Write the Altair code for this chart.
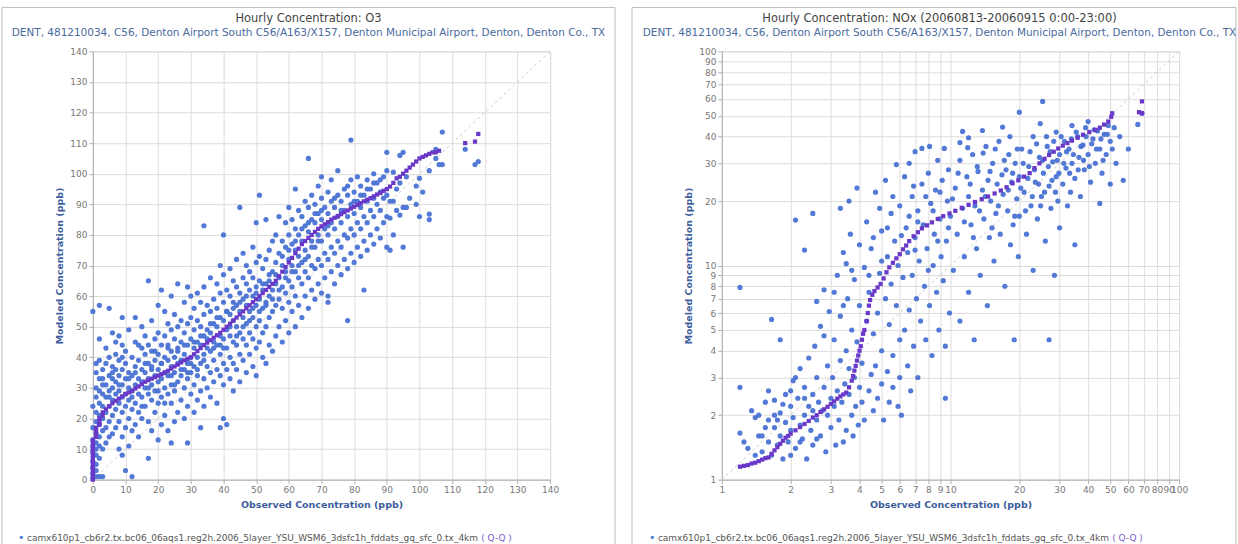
import altair as alt
import pandas as pd

# ---------------- texts ----------------
o3_title = "Hourly Concentration: O3"
site_sub = "DENT, 481210034, C56, Denton Airport South C56/A163/X157, Denton Municipal Airport, Denton, Denton Co., TX"
nox_title = "Hourly Concentration: NOx (20060813-20060915 0:00-23:00)"
legend_label = "camx610p1_cb6r2.tx.bc06_06aqs1.reg2h.2006_5layer_YSU_WSM6_3dsfc1h_fddats_gq_sfc_0.tx_4km"

# ---------------- O3 panel (linear) ----------------
o3_ticks = [0, 10, 20, 30, 40, 50, 60, 70, 80, 90, 100, 110, 120, 130, 140]

# observed value -> modeled values (scatter)
o3_obs = [0, 1, 2, 3, 4, 5, 6, 7, 8, 9, 10, 11, 12, 13, 14, 15, 16, 17, 18, 19,
          20, 21, 22, 23, 24, 25, 26, 27, 28, 29, 30, 31, 32, 33, 34, 35, 36, 37, 38, 39,
          40, 41, 42, 43, 44, 45, 46, 47, 48, 49, 50, 51, 52, 53, 54, 55, 56, 57, 58, 59,
          60, 61, 62, 63, 64, 65, 66, 67, 68, 69, 70, 71, 72, 73, 74, 75, 76, 77, 78, 79,
          80, 81, 82, 83, 84, 85, 86, 87, 88, 89, 90, 91, 92, 93, 94, 95, 96, 97, 99, 100,
          101, 103, 105, 106, 107, 114, 117, 118]
o3_mod = [
    [0.5, 2, 4, 6, 9, 11, 13, 17, 24, 55],
    [1, 3, 5, 8, 10, 12, 15, 19, 22, 27, 30, 35, 38],
    [1, 7, 11, 14, 18, 21, 25, 29, 33, 39, 46, 57],
    [1, 10, 16, 20, 24, 28, 31, 36],
    [12, 17, 22, 27, 31, 38, 43],
    [14, 19, 24, 29, 34, 40, 56],
    [15, 21, 26, 30, 33, 37, 48],
    [17, 23, 28, 32, 36, 41, 45],
    [10, 19, 25, 29, 34, 39, 47],
    [8, 14, 22, 27, 31, 36, 44, 53],
    [3, 17, 24, 28, 33, 38, 42],
    [11, 20, 26, 30, 35, 49],
    [1, 16, 23, 29, 34, 40],
    [18, 25, 31, 37, 45, 53],
    [14, 22, 28, 33, 39],
    [20, 27, 32, 36, 43, 50],
    [24, 30, 35, 41, 47],
    [7, 19, 28, 33, 38, 44, 65],
    [16, 26, 31, 37, 42, 52],
    [22, 29, 34, 39, 46],
    [13, 25, 32, 36, 41, 48, 57],
    [18, 27, 33, 38, 44, 62],
    [21, 30, 35, 40, 47, 55],
    [16, 28, 34, 39, 43, 51],
    [12, 25, 31, 37, 42, 49, 60],
    [19, 29, 35, 40, 46, 54],
    [22, 32, 38, 43, 50, 64],
    [26, 34, 39, 45, 52],
    [20, 30, 36, 41, 48, 58],
    [12, 24, 33, 38, 44, 51, 63],
    [28, 35, 40, 46, 53, 60],
    [22, 31, 37, 43, 49, 56],
    [26, 34, 40, 45, 52, 61],
    [17, 29, 38, 44, 50, 58],
    [24, 33, 41, 47, 54, 63, 83],
    [30, 37, 43, 49, 57],
    [27, 35, 42, 48, 55, 66],
    [32, 39, 45, 51, 59],
    [25, 36, 44, 50, 56, 64],
    [17, 34, 41, 47, 53, 61, 70],
    [20, 31, 38, 46, 52, 58, 67, 80],
    [18, 36, 43, 49, 55, 62],
    [33, 40, 47, 54, 60, 69],
    [29, 38, 45, 52, 58, 65],
    [36, 44, 50, 57, 63, 72],
    [32, 41, 48, 55, 61, 89],
    [39, 46, 53, 59, 66, 74],
    [35, 44, 51, 57, 64, 70],
    [41, 48, 55, 62, 68],
    [37, 46, 53, 60, 66, 76],
    [34, 43, 50, 57, 63, 71, 84],
    [45, 52, 59, 65, 73, 93],
    [40, 48, 56, 62, 69],
    [38, 50, 58, 64, 72, 85],
    [44, 53, 60, 67, 75],
    [42, 55, 62, 68, 78],
    [47, 57, 64, 71, 80],
    [50, 59, 66, 74, 86],
    [45, 56, 63, 70, 78],
    [52, 61, 68, 76, 84],
    [48, 58, 65, 72, 80, 89],
    [55, 63, 70, 77, 85],
    [50, 60, 68, 75, 82, 95],
    [57, 66, 73, 80, 88],
    [53, 64, 71, 78, 86],
    [60, 68, 75, 83, 91],
    [56, 66, 73, 81, 89, 105],
    [62, 70, 78, 85, 93],
    [59, 69, 76, 84, 90],
    [64, 72, 80, 87, 96],
    [61, 70, 78, 85, 92, 99],
    [66, 74, 82, 89],
    [58, 60, 72, 80, 87, 94],
    [68, 76, 84, 91, 98],
    [64, 74, 82, 89],
    [70, 78, 86, 93, 101],
    [67, 76, 84, 91],
    [72, 80, 88, 95],
    [52, 69, 79, 86, 93],
    [74, 82, 90, 98, 111],
    [71, 80, 87, 94],
    [76, 84, 91, 99],
    [73, 82, 89, 96],
    [62, 78, 86, 93],
    [75, 84, 91, 98],
    [80, 88, 95],
    [77, 86, 92, 100],
    [82, 90, 97],
    [79, 88, 94],
    [84, 92, 99],
    [76, 86, 93, 107],
    [75, 85.5, 91],
    [80, 91, 100.5],
    [88, 95],
    [86.5, 97, 106],
    [76, 89, 107],
    [89, 99],
    [92],
    [90, 96],
    [86, 98.5],
    [94],
    [85, 86.8, 101],
    [105, 108],
    [103],
    [103, 113.6],
    [108],
    [103],
    [104],
]
# additional points in the dense band (obs, mod)
o3_extra = [(3, 33), (5, 27), (6, 35), (8, 31), (9, 40), (11, 33), (12, 27), (13, 35), (14, 44),
            (15, 24), (16, 38), (17, 30), (18, 36), (19, 42), (20, 29), (21, 38), (22, 25),
            (23, 44), (24, 34), (25, 31), (26, 42), (27, 36), (28, 44), (29, 35), (30, 38),
            (31, 45), (32, 36), (33, 47), (34, 39), (35, 46), (36, 51), (37, 43), (38, 53),
            (39, 44), (40, 43), (41, 55), (42, 50), (43, 56), (44, 47), (45, 58), (46, 50),
            (47, 60), (48, 52), (49, 56), (50, 61), (51, 55), (52, 64), (53, 57), (54, 65),
            (55, 59), (56, 67), (57, 62), (58, 73), (59, 66), (60, 75), (61, 68), (62, 78),
            (63, 70), (64, 82), (65, 72), (66, 84), (67, 76), (68, 87), (69, 78), (70, 88),
            (72, 83), (74, 92), (76, 88), (78, 96), (80, 91), (82, 93), (84, 95), (86, 97),
            (88, 98), (90, 101)]

o3_qq_obs = [0, 0, 0, 0, 0, 0, 0, 0, 0, 0, 0, 0, 0, 0, 1, 1, 1, 1, 2, 2, 2, 3, 3,
             4, 5, 6, 7, 8, 9, 10, 11, 12, 13, 14, 15, 16, 17, 18, 19, 20, 21, 22, 23,
             24, 25, 26, 27, 28, 29, 30, 31, 32, 33, 34, 35, 36, 37, 38, 39, 40, 41, 42,
             43, 44, 45, 46, 47, 48, 49, 50, 51, 52, 53, 54, 55, 56, 57, 58, 59, 60, 61,
             62, 63, 64, 65, 66, 67, 68, 69, 70, 71, 72, 73, 74, 75, 76, 77, 78, 79, 80,
             81, 82, 83, 84, 85, 86, 87, 88, 89, 90, 91, 92, 93, 94, 95, 96, 97, 98, 99,
             100, 101, 102, 103, 104, 105, 106, 114, 117, 118]
o3_qq_mod = [0, 1, 2, 3, 4, 5, 6, 7, 8, 9, 10, 11, 12, 13, 14, 15, 16, 17, 18, 19, 20, 21, 22,
             23, 24, 25, 25.8, 26.5, 27.2, 28, 28.5, 29, 29.8, 30.5, 31.2, 32, 32.5, 33, 33.5, 34, 34.5, 35, 35.6,
             36.3, 37, 37.6, 38.3, 39, 39.5, 40, 41, 42, 43, 44, 44.8, 45.6, 46.4, 47.2, 48, 49, 50, 51,
             52, 53, 54, 55, 56, 57, 58, 59, 60, 61, 62, 63, 64, 65, 66.5, 68, 69.5, 71, 72.5,
             74, 75.5, 77, 78, 79, 80, 81, 82, 82.8, 83.5, 84.2, 85, 85.6, 86.2, 86.8, 87.4, 88, 88.6, 89.2,
             89.8, 90.4, 91, 91.5, 92, 92.6, 93.2, 93.7, 94.4, 95, 95.8, 97, 98.5, 99, 100, 101, 102, 103, 104,
             105, 105.5, 106, 106.5, 107, 107, 107.5, 110, 110.5, 113]

# ---------------- NOx panel (log-log) ----------------
nox_ticks = [1, 2, 3, 4, 5, 6, 7, 8, 9, 10, 20, 30, 40, 50, 60, 70, 80, 90, 100]

nox_low = [(1.2, 2.7), (1.2, 1.65), (1.25, 1.5), (1.3, 1.4), (1.35, 2.1), (1.4, 1.95), (1.4, 1.3),
           (1.45, 2.0), (1.5, 1.6), (1.5, 1.35), (1.55, 2.3), (1.6, 1.9), (1.6, 1.5), (1.6, 2.6),
           (1.65, 1.3), (1.7, 2.0), (1.7, 1.75), (1.7, 2.35), (1.75, 1.45), (1.8, 1.6), (1.8, 2.05),
           (1.85, 1.25), (1.9, 1.85), (1.9, 2.5), (1.95, 1.5), (2.0, 2.2), (2.0, 1.7), (2.0, 1.3),
           (2.05, 2.9), (2.05, 1.95), (1.2, 7.9), (1.65, 5.6), (1.8, 4.5), (2.1, 16.3),
           (2.1, 1.4), (2.15, 2.4), (2.2, 1.8), (2.2, 3.3), (2.25, 1.55), (2.3, 2.0), (2.3, 2.7),
           (2.35, 1.25), (2.4, 2.2), (2.4, 3.7), (2.45, 1.7), (2.5, 2.5), (2.5, 1.45), (2.55, 4.2),
           (2.6, 1.9), (2.6, 3.0), (2.65, 2.3), (2.7, 1.6), (2.7, 5.2), (2.75, 2.1), (2.8, 2.7),
           (2.85, 1.35), (2.9, 3.4), (2.9, 2.0), (2.95, 6.1), (3.0, 2.4), (3.0, 1.75), (2.5, 17.5),
           (2.8, 7.7), (2.3, 11.8), (2.0, 2.6), (2.1, 3.0), (2.3, 2.4), (2.5, 2.1), (2.6, 1.55),
           (2.2, 1.5), (1.85, 2.25), (1.55, 1.75), (1.45, 1.6), (1.75, 1.9), (2.8, 4.7), (2.6, 6.8)]
nox_mid = [(3.05, 3.0), (3.1, 2.2), (3.1, 4.5), (3.15, 1.45), (3.2, 2.6), (3.2, 9.0), (3.25, 1.9),
           (3.3, 3.6), (3.3, 5.8), (3.35, 2.3), (3.4, 1.5), (3.4, 11.5), (3.45, 2.8), (3.5, 4.0),
           (3.5, 1.7), (3.55, 7.0), (3.6, 2.5), (3.6, 3.3), (3.65, 14.0), (3.7, 2.0), (3.7, 5.0),
           (3.75, 1.6), (3.8, 3.0), (3.8, 8.6), (3.85, 2.2), (3.9, 23.0), (3.9, 4.4), (3.95, 1.8),
           (4.0, 2.7), (4.0, 6.5), (4.0, 12.5), (3.3, 18.5), (3.6, 20.0), (3.5, 10.2),
           (4.1, 2.3), (4.1, 3.5), (4.2, 9.8), (4.2, 1.9), (4.3, 5.5), (4.3, 16.0), (4.4, 2.6),
           (4.4, 7.5), (4.5, 3.1), (4.5, 12.0), (4.6, 2.1), (4.6, 4.8), (4.7, 22.0), (4.7, 3.4),
           (4.8, 6.0), (4.8, 2.4), (4.9, 9.2), (5.0, 2.8), (5.0, 14.5), (5.0, 4.0), (5.1, 1.9),
           (5.2, 7.0), (5.2, 25.0), (5.3, 3.2), (5.3, 11.0), (5.4, 2.3), (5.4, 5.3), (5.5, 17.5),
           (5.5, 8.2), (5.6, 2.7), (5.6, 3.8), (5.7, 13.0), (5.8, 29.6), (5.8, 6.5), (5.9, 2.2),
           (5.9, 10.0), (6.0, 4.5), (6.0, 19.0), (6.0, 3.0),
           (6.1, 2.0), (6.2, 8.8), (6.3, 26.0), (6.3, 5.0), (6.4, 15.0), (6.5, 3.4), (6.5, 11.5),
           (6.6, 30.0), (6.6, 6.2), (6.7, 2.6), (6.8, 21.0), (6.8, 9.0), (6.9, 4.2), (7.0, 13.5),
           (7.0, 34.0), (7.1, 7.0), (7.2, 3.0), (7.2, 18.0), (7.3, 10.5), (7.4, 5.5), (7.5, 35.2),
           (7.5, 24.0), (7.6, 15.5), (7.7, 8.0), (7.8, 4.5), (7.9, 12.0), (8.0, 27.0), (8.1, 36.0),
           (8.1, 6.5), (8.2, 19.5), (8.3, 3.8), (8.4, 10.0), (8.5, 14.0), (8.6, 22.5), (8.7, 7.5),
           (8.8, 31.0), (8.9, 5.0), (9.0, 16.5), (9.1, 11.0), (9.2, 25.0), (9.3, 8.5), (9.4, 35.2),
           (9.5, 4.2), (9.6, 13.0), (9.7, 20.0), (9.8, 28.0), (9.9, 6.0), (10.0, 17.0), (9.5, 2.4),
           (9.0, 22.0), (8.4, 18.0), (7.2, 16.0), (7.8, 21.0), (6.6, 17.0), (6.9, 23.5), (5.6, 21.0),
           (5.3, 15.0), (4.9, 18.5), (4.6, 13.5), (6.1, 13.8), (7.0, 11.8), (8.0, 9.5), (8.8, 13.0),
           (9.8, 15.0), (5.0, 10.5), (4.4, 9.0), (3.4, 6.5), (3.1, 7.5), (3.7, 9.5)]
nox_high = [(10.3, 9.5), (10.5, 23.0), (10.7, 14.0), (11.0, 31.0), (11.0, 5.5), (11.3, 42.3),
            (11.3, 18.5), (11.5, 11.0), (11.8, 26.0), (12.0, 7.5), (12.0, 21.0), (12.3, 15.5),
            (12.5, 33.0), (12.7, 4.5), (12.8, 19.0), (13.0, 12.0), (13.2, 27.5), (13.5, 9.0),
            (13.8, 42.7), (13.8, 22.5), (14.0, 16.5), (14.3, 36.0), (14.5, 6.5), (14.6, 25.0),
            (14.8, 13.5), (15.0, 20.0), (15.3, 30.0), (15.5, 10.5), (15.8, 17.5), (16.0, 24.0),
            (16.3, 38.0), (16.5, 14.0), (16.9, 44.3), (17.0, 21.5), (17.3, 8.0), (17.5, 28.0),
            (17.8, 18.0), (18.0, 33.0), (18.3, 12.5), (18.5, 24.5), (18.8, 15.5), (19.0, 4.5),
            (19.2, 30.0), (19.5, 20.5), (19.8, 11.0), (20.0, 52.0), (20.0, 26.0), (20.0, 17.0),
            (20.5, 35.0), (21.0, 22.0), (21.5, 14.0), (22.0, 29.0), (22.5, 19.0), (23.0, 40.0),
            (23.0, 9.5), (23.5, 24.5), (24.0, 16.5), (24.5, 32.0), (24.7, 46.0), (25.0, 21.0),
            (25.3, 58.4), (25.5, 27.0), (26.0, 13.0), (26.5, 36.0), (27.0, 23.5), (27.0, 4.5),
            (27.5, 18.5), (28.0, 30.5), (28.5, 9.0), (29.0, 42.0), (29.0, 26.0), (29.5, 20.0),
            (30.0, 33.0), (30.0, 15.0), (31.0, 24.0), (31.5, 38.0), (32.0, 28.5), (32.5, 19.0),
            (33.0, 35.0), (33.5, 22.0), (34.0, 45.0), (34.0, 30.0), (35.0, 25.5), (35.0, 12.5),
            (36.0, 40.0), (36.5, 32.0), (37.0, 21.0), (38.0, 36.5), (38.5, 28.0), (39.0, 44.0),
            (40.0, 47.0), (40.0, 33.0), (41.0, 24.5), (42.0, 39.0), (43.0, 30.0), (44.0, 42.5),
            (45.0, 35.0), (45.0, 19.5), (46.0, 27.0), (47.0, 41.0), (48.0, 33.0), (49.0, 45.0),
            (50.0, 38.0), (50.0, 24.0), (52.0, 44.0), (53.0, 30.0), (55.0, 40.0), (57.0, 25.0),
            (60.0, 35.0), (66.0, 45.6), (68.8, 51.4)]
nox_band = [(10.2, 20.5), (10.8, 27.0), (11.5, 16.0), (11.9, 35.5), (12.2, 24.0), (12.6, 13.5),
            (13.1, 29.0), (13.4, 18.0), (13.9, 33.5), (14.2, 21.0), (14.9, 27.5), (15.2, 15.0),
            (15.7, 35.0), (16.2, 19.0), (16.8, 26.5), (17.2, 31.0), (17.9, 22.5), (18.2, 40.0),
            (18.7, 27.0), (19.1, 17.0), (19.6, 35.0), (20.3, 23.0), (20.8, 30.0), (21.3, 18.0),
            (21.8, 25.5), (22.3, 34.0), (22.8, 21.0), (23.3, 28.0), (23.8, 37.0), (24.3, 24.0),
            (24.8, 19.0), (25.3, 31.0), (25.8, 22.0), (26.3, 40.0), (26.8, 29.0), (27.3, 34.0),
            (27.8, 25.0), (28.3, 38.0), (28.8, 22.0), (29.3, 31.0), (29.8, 27.0), (30.5, 40.0),
            (31.3, 30.0), (32.2, 34.0), (33.2, 27.0), (33.8, 39.0), (34.5, 33.0), (35.5, 42.0),
            (36.2, 28.0), (37.2, 36.0), (38.2, 31.0), (39.2, 40.0), (40.5, 29.0), (41.5, 37.0),
            (42.5, 43.0), (43.5, 35.0), (45.5, 39.0), (46.5, 31.0), (48.5, 41.0), (51.0, 35.0),
            (11.0, 37.5), (12.0, 39.5)]

nox_qq = [(1.2, 1.15), (1.25, 1.16), (1.3, 1.17), (1.35, 1.19), (1.4, 1.2), (1.45, 1.22), (1.5, 1.24),
          (1.55, 1.26), (1.6, 1.27), (1.65, 1.32), (1.7, 1.37), (1.75, 1.42), (1.8, 1.47), (1.85, 1.52),
          (1.9, 1.57), (1.95, 1.6), (2.0, 1.64), (2.1, 1.7), (2.2, 1.76), (2.3, 1.82), (2.4, 1.88),
          (2.5, 1.95), (2.6, 2.0), (2.7, 2.07), (2.8, 2.13), (2.9, 2.19), (3.0, 2.26), (3.1, 2.32),
          (3.2, 2.39), (3.3, 2.45), (3.4, 2.5), (3.5, 2.55), (3.6, 2.7), (3.7, 2.9), (3.75, 3.05),
          (3.8, 3.23), (3.85, 3.4), (3.9, 3.6), (3.95, 3.8), (4.0, 4.0), (4.05, 4.2), (4.1, 4.5),
          (4.15, 4.8), (4.2, 5.0), (4.3, 5.5), (4.35, 6.0), (4.4, 6.5), (4.45, 6.9), (4.55, 7.3),
          (4.65, 7.6), (4.8, 7.9), (4.95, 8.2), (5.1, 8.7), (5.25, 9.3), (5.4, 9.8), (5.6, 10.3),
          (5.8, 10.8), (6.0, 11.3), (6.2, 11.9), (6.4, 12.4), (6.6, 13.0), (6.9, 13.7), (7.2, 14.3),
          (7.5, 14.9), (7.9, 15.4), (8.3, 15.9), (8.8, 16.5), (9.3, 17.0), (9.9, 17.5), (10.5, 18.0),
          (11.2, 18.6), (12.0, 19.2), (12.8, 19.8), (13.7, 20.4), (14.6, 21.0), (15.6, 21.7),
          (16.6, 22.4), (17.6, 23.2), (18.7, 24.2), (19.8, 25.0), (21.0, 26.0), (22.2, 27.0),
          (23.3, 28.5), (24.5, 30.0), (25.8, 31.5), (27.0, 32.8), (28.3, 34.0), (29.6, 35.2),
          (31.0, 36.3), (32.5, 37.3), (34.0, 38.3), (36.0, 39.5), (38.0, 40.8), (40.5, 42.0),
          (43.0, 43.0), (45.0, 44.0), (47.0, 45.5), (49.0, 47.0), (50.5, 49.5), (51.0, 51.4),
          (66.8, 52.0), (68.8, 51.4), (68.8, 58.4)]

# ---------------- styling ----------------
BLUE = "#4a72d4"
PURPLE = "#6a38c8"
FONT = "DejaVu Sans"
W, H = 458, 429

o3_scatter = pd.DataFrame(
    [(o, m) for o, ms in zip(o3_obs, o3_mod) for m in ms] + o3_extra, columns=["obs", "mod"])
o3_qq = pd.DataFrame({"obs": o3_qq_obs, "mod": o3_qq_mod})
nox_scatter = pd.DataFrame(nox_low + nox_mid + nox_high + nox_band, columns=["obs", "mod"])
nox_qqdf = pd.DataFrame(nox_qq, columns=["obs", "mod"])


def txt(text, x, y, size, color, align="left", weight="normal"):
    return alt.Chart(pd.DataFrame({"t": [text]})).mark_text(
        font=FONT, fontSize=size, color=color, align=align, baseline="middle",
        fontWeight=weight).encode(text="t:N", x=alt.value(x), y=alt.value(y))


def build_panel(scatter, qq, ticks, scale_type, lo, hi, title, frame_x1, frame_x2, title_cx, leg_x):
    if scale_type == "log":
        sc = alt.Scale(type="log", domain=[lo, hi], nice=False)
    else:
        sc = alt.Scale(domain=[lo, hi], nice=False)
    xax = alt.Axis(values=ticks, title="Observed Concentration (ppb)", labelOverlap=False,
                   labelFlush=False)
    yax = alt.Axis(values=ticks, title="Modeled Concentration (ppb)", labelOverlap=False,
                   labelFlush=False)
    x = alt.X("obs:Q", scale=sc, axis=xax)
    y = alt.Y("mod:Q", scale=sc, axis=yax)

    diag = alt.Chart(pd.DataFrame({"obs": [lo, hi], "mod": [lo, hi]})).mark_line(
        color="#cccccc", strokeDash=[3, 3], strokeWidth=1).encode(x=x, y=y)
    pts = alt.Chart(scatter).mark_circle(size=27, color=BLUE, opacity=0.95).encode(x=x, y=y)
    qqm = alt.Chart(qq).mark_square(size=18, color=PURPLE, opacity=1).encode(x=x, y=y)

    frame = alt.Chart(pd.DataFrame({"k": [0]})).mark_rect(
        fillOpacity=0, stroke="#bdbdbd", strokeWidth=1).encode(
        x=alt.value(frame_x1), x2=alt.value(frame_x2), y=alt.value(-44), y2=alt.value(494))

    t1 = txt(title, title_cx, -32, 11.5, "#444444", align="center")
    t2 = txt(site_sub, title_cx, -18, 10.5, "#4a6a9e", align="center")
    bullet = txt("\u2022", leg_x - 9, 487, 11, BLUE)
    leg = txt(legend_label, leg_x, 487, 9, "#555555")
    legqq = txt("( Q-Q )", leg_x + 455, 487, 9, "#7a5cc8")

    return alt.layer(diag, pts, qqm, frame, t1, t2, bullet, leg, legqq).properties(
        width=W, height=H)


left = build_panel(o3_scatter, o3_qq, o3_ticks, "linear", 0, 140, o3_title, -91, 523, 216, -66)
right = build_panel(nox_scatter, nox_qqdf, nox_ticks, "log", 1, 100, nox_title, -90, 515, 218, -64)

chart = alt.hconcat(left, right, spacing=172, bounds="flush").properties(
    padding={"left": 1, "top": 6, "right": 0, "bottom": 0},
).configure_view(stroke="#d9d9d9").configure_axis(
    labelFont=FONT, labelFontSize=9, labelColor="#777777",
    titleFont=FONT, titleFontSize=9.5, titleFontWeight="bold", titleColor="#3e5e9e",
    gridColor="#dcdcdc", gridWidth=1, domainColor="#b0b0b0", tickColor="#b0b0b0",
    tickSize=4, labelPadding=2, titlePadding=5,
)

chart.save("out.html", embed_options={"renderer": "svg", "actions": False})
